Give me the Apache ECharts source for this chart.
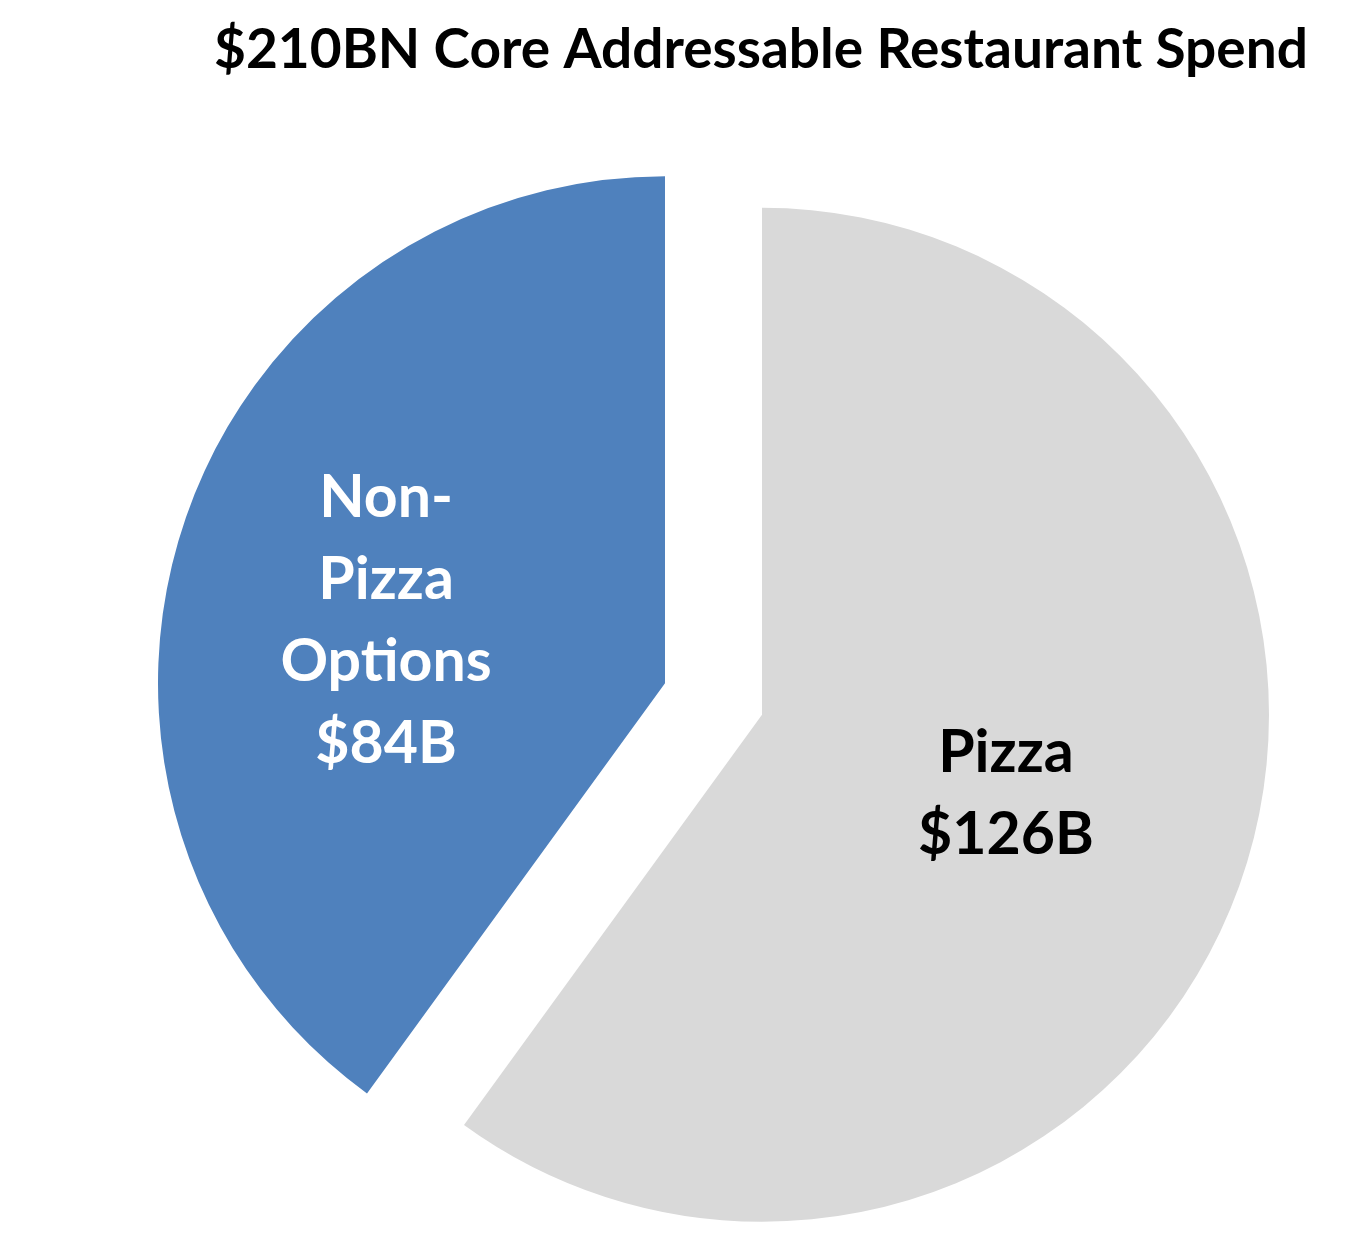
<!DOCTYPE html>
<html><head><meta charset="utf-8">
<script src="https://cdn.jsdelivr.net/npm/echarts@6/dist/echarts.min.js"></script>
<style>html,body{margin:0;padding:0;background:#fff}#c{width:1346px;height:1255px}</style>
</head><body><div id="c"></div>
<script>
const titleText = '$210BN Core Addressable Restaurant Spend';
const categories = ['Pizza', 'Non-Pizza Options'];
const labelNames = ['Pizza', 'Non-\nPizza\nOptions'];
const values = [126, 84];
const colors = ['#D9D9D9', '#4F81BD'];
const labelColors = ['#000000', '#FFFFFF'];

const chart = echarts.init(document.getElementById('c'), null, {renderer: 'canvas'});
const data = categories.map((c, i) => ({
  name: c,
  value: values[i],
  selected: true,
  itemStyle: {color: colors[i]},
  select: {itemStyle: {color: colors[i]}},
  label: {
    color: labelColors[i],
    formatter: labelNames[i] + '\n$' + values[i] + 'B'
  }
}));
chart.setOption({
  animation: false,
  backgroundColor: '#ffffff',
  title: {
    text: titleText,
    left: 756,
    top: 18,
    textAlign: 'center',
    textStyle: {fontFamily: 'Lato', fontWeight: 'bold', fontSize: 55, color: '#000'}
  },
  series: [{
    type: 'pie',
    center: [713.5, 699],
    radius: [0, 507],
    startAngle: 90,
    clockwise: true,
    selectedMode: 'multiple',
    selectedOffset: 51,
    silent: true,
    emphasis: {disabled: true},
    label: {
      show: true,
      position: 'inside',
      fontFamily: 'Lato',
      fontWeight: 'bold',
      fontSize: 59,
      lineHeight: 82,
      align: 'center'
    },
    labelLayout: function (params) {
      if (params.dataIndex === 1) return {dx: -35, dy: 17};
      return {};
    },
    labelLine: {show: false},
    itemStyle: {borderWidth: 0},
    data: data
  }]
});
</script></body></html>
